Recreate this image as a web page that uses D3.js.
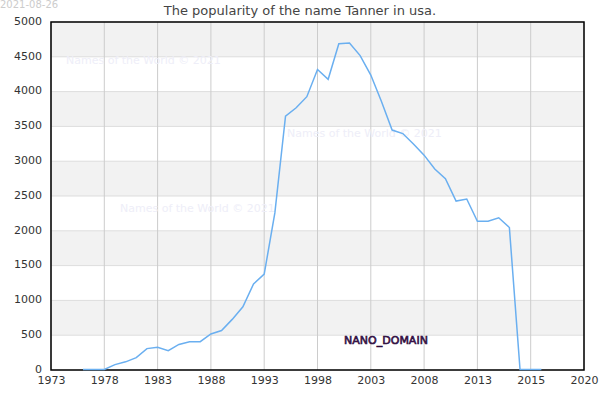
<!DOCTYPE html><html><head><meta charset="utf-8"><script src="https://cdn.jsdelivr.net/npm/d3@7"></script>
<style>body{margin:0;background:#fff}text{font-family:"DejaVu Sans",sans-serif}</style></head><body><svg id="c" width="600" height="400"></svg><script>
const years=[1976,1977,1978,1979,1980,1981,1982,1983,1984,1985,1986,1987,1988,1989,1990,1991,1992,1993,1994,1995,1996,1997,1998,1999,2000,2001,2002,2003,2004,2005,2006,2007,2008,2009,2010,2011,2012,2013,2014,2015,2016,2017,2018,2019];
const values=[0,0,0,70,110,170,300,320,270,360,400,400,510,560,720,900,1230,1370,2250,3640,3760,3920,4310,4170,4680,4690,4510,4230,3850,3440,3390,3240,3080,2880,2740,2420,2450,2130,2130,2180,2040,0,0,0];
const xTickPos=[1973,1978,1983,1988,1993,1998,2003,2008,2013,2018,2023];
const xTickLabels=["1973","1978","1983","1988","1993","1998","2003","2008","2013","2015","2020"];
const yTicks=[0,500,1000,1500,2000,2500,3000,3500,4000,4500,5000];
const svg=d3.select("#c");
const L=51,R=584,T=22,B=370;
const x=d3.scaleLinear().domain([1973,2023]).range([L,R]);
const y=d3.scaleLinear().domain([0,5000]).range([B,T]);
for(let i=0;i<10;i++){ if(i%2==1) svg.append("rect").attr("x",L).attr("width",R-L).attr("y",y(yTicks[i+1])).attr("height",y(yTicks[i])-y(yTicks[i+1])).attr("fill","#f2f2f2");}
yTicks.forEach(v=>svg.append("line").attr("x1",L).attr("x2",R).attr("y1",y(v)).attr("y2",y(v)).attr("stroke","#ddd"));
xTickPos.forEach(v=>svg.append("line").attr("x1",x(v)).attr("x2",x(v)).attr("y1",T).attr("y2",B).attr("stroke","#ccc"));
const wm=[[66,64],[287,137],[120,212]];
wm.forEach(p=>svg.append("text").attr("x",p[0]).attr("y",p[1]).attr("font-size",11).attr("fill","#eeeef8").text("Names of the World © 2021"));
svg.append("rect").attr("x",L).attr("y",T).attr("width",R-L).attr("height",B-T).attr("fill","none").attr("stroke","#000").attr("stroke-width",1.5);
svg.append("path").datum(years.map((d,i)=>[d,values[i]])).attr("fill","none").attr("stroke","#6aaff0").attr("stroke-width",1.5).attr("d",d3.line().x(d=>x(d[0])).y(d=>y(d[1])-0.5));
const xa=svg.append("g").attr("transform",`translate(0,${B})`).call(d3.axisBottom(x).tickValues(xTickPos).tickFormat((d,i)=>xTickLabels[i]).tickSize(0).tickPadding(6));
const ya=svg.append("g").attr("transform",`translate(${L},0)`).call(d3.axisLeft(y).tickValues(yTicks).tickFormat(d3.format("d")).tickSize(0).tickPadding(9));
ya.selectAll("text").attr("dy","0.2em");
[xa,ya].forEach(a=>{a.select(".domain").remove();a.selectAll("text").attr("font-size",11).attr("fill","#333").attr("font-family","DejaVu Sans");});
svg.append("text").attr("x",300).attr("y",15).attr("text-anchor","middle").attr("font-size",13).attr("fill","#444").text("The popularity of the name Tanner in usa.");
svg.append("text").attr("x",0).attr("y",8).attr("font-size",10).attr("fill","#ccc").text("2021-08-26");
svg.append("text").attr("x",386).attr("y",344).attr("text-anchor","middle").attr("font-size",11).attr("fill","#4a1a5a").attr("stroke","#2a0a3a").attr("stroke-width",0.6).text("NANO_DOMAIN");
</script></body></html>
